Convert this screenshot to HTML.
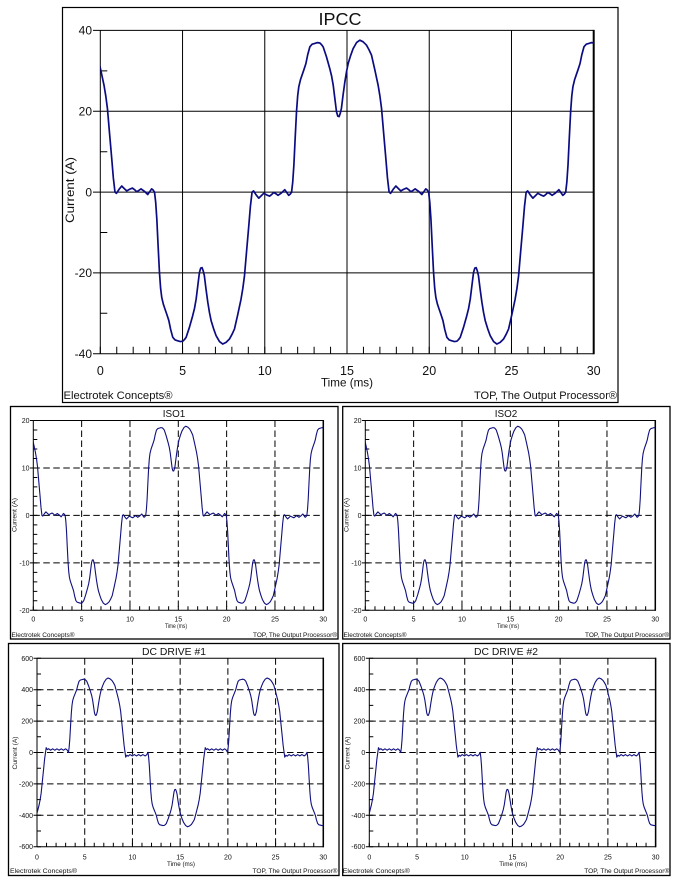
<!DOCTYPE html>
<html><head><meta charset="utf-8">
<style>
html,body{margin:0;padding:0;background:#fff;width:679px;height:885px;overflow:hidden}
svg{display:block}
text{font-family:"Liberation Sans",Arial,sans-serif;fill:#111}
.w{fill:none;stroke-linejoin:round;stroke-linecap:round}
</style></head><body>
<svg width="679" height="885" viewBox="0 0 679 885" xmlns="http://www.w3.org/2000/svg">
<defs>
<clipPath id="c0" clipPathUnits="userSpaceOnUse"><rect x="100.3" y="20" width="493.4" height="345"/></clipPath>
<clipPath id="c1" clipPathUnits="userSpaceOnUse"><rect x="33.3" y="412" width="290" height="205"/></clipPath>
<clipPath id="c2" clipPathUnits="userSpaceOnUse"><rect x="365.3" y="412" width="290" height="205"/></clipPath>
<clipPath id="c3" clipPathUnits="userSpaceOnUse"><rect x="37" y="650" width="286.3" height="205"/></clipPath>
<clipPath id="c4" clipPathUnits="userSpaceOnUse"><rect x="369.3" y="650" width="286" height="205"/></clipPath>
</defs>

<!-- ================= IPCC ================= -->
<rect x="62.5" y="7.5" width="555.5" height="395" fill="none" stroke="#000" stroke-width="1.2"/>
<text x="340" y="25" font-size="17.5" text-anchor="middle" textLength="43" lengthAdjust="spacingAndGlyphs">IPCC</text>
<path d="M182.54,30.4V353.7M264.77,30.4V353.7M347,30.4V353.7M429.24,30.4V353.7M511.48,30.4V353.7M100.3,30.4V353.7M100.3,30.4H593.7M100.3,111.3H593.7M100.3,192.1H593.7M100.3,272.9H593.7M100.3,353.7H593.7M93,30.4H100.3M93,111.3H100.3M93,192.1H100.3M93,272.9H100.3M93,353.7H100.3M100.3,70.9H107.3M100.3,151.7H107.3M100.3,232.5H107.3M100.3,313.3H107.3" stroke="#000" stroke-width="1" fill="none"/>
<line x1="593.7" y1="29.9" x2="593.7" y2="354.2" stroke="#000" stroke-width="2"/>
<line x1="99.8" y1="350.2" x2="594.5" y2="350.2" stroke="#000" stroke-width="7" stroke-dasharray="1 15.447"/>
<g font-size="12" text-anchor="end">
<text x="92" y="34.7">40</text><text x="92" y="115.6">20</text><text x="92" y="196.4">0</text><text x="92" y="277.2">-20</text><text x="92" y="358">-40</text>
</g>
<g font-size="12.5" text-anchor="middle">
<text x="100.3" y="375">0</text><text x="182.54" y="375">5</text><text x="264.77" y="375">10</text><text x="347" y="375">15</text><text x="429.24" y="375">20</text><text x="511.48" y="375">25</text><text x="593.7" y="375">30</text>
</g>
<text x="347" y="386.5" font-size="12" text-anchor="middle" textLength="52" lengthAdjust="spacingAndGlyphs">Time (ms)</text>
<text transform="translate(74,190) rotate(-90)" font-size="12" text-anchor="middle" textLength="66" lengthAdjust="spacingAndGlyphs">Current (A)</text>
<text x="63.5" y="399" font-size="11" textLength="109" lengthAdjust="spacingAndGlyphs">Electrotek Concepts®</text>
<text x="617" y="399" font-size="11" text-anchor="end" textLength="143" lengthAdjust="spacingAndGlyphs">TOP, The Output Processor®</text>
<g clip-path="url(#c0)">
<g transform="matrix(16.447,0,0,-4.04,100.3,192.1)" stroke="#0c0c82" class="w">
<path vector-effect="non-scaling-stroke" stroke-width="1.7" transform="translate(-5.037,0)" d="M0,0 L0.07,2.5 0.14,6.7 0.22,13.5 0.3,19.9 0.37,23.8 0.44,26.1 0.54,27.8 0.64,29 0.75,30.3 0.87,31.8 0.98,34 1.11,35.95 1.25,36.6 1.41,36.8 1.57,37 1.72,36.9 1.82,36.5 1.92,35.95 2.12,33.5 2.32,30.6 2.43,28.8 2.53,26.5 2.63,23.2 2.73,19.9 2.81,18.8 2.89,18.7 2.96,19.5 3.03,20.7 3.13,24 3.24,27.3 3.34,29.8 3.44,31.8 3.59,33.8 3.74,35.5 3.95,37 4.15,37.6 4.35,37.2 4.55,36.4 4.7,35.3 4.86,33.9 5.06,30.3 5.26,26.5 5.37,23.8 5.47,20.7 5.6,14.5 5.73,8.4 5.83,3.5 5.93,0 6.02,-0.3 6.18,0.7 6.34,1.5 6.49,0.9 6.64,0.3 6.82,0.7 6.99,1 7.12,0.6 7.25,0.1 7.38,0.4 7.51,0.8 7.72,0.2 7.92,-0.6 8.04,0.1 8.16,0.8 8.25,0.5 8.333,0"/>
<path vector-effect="non-scaling-stroke" stroke-width="1.7" transform="translate(3.297,0) scale(1,-1)" d="M0,0 L0.07,2.5 0.14,6.7 0.22,13.5 0.3,19.9 0.37,23.8 0.44,26.1 0.54,27.8 0.64,29 0.75,30.3 0.87,31.8 0.98,34 1.11,35.95 1.25,36.6 1.41,36.8 1.57,37 1.72,36.9 1.82,36.5 1.92,35.95 2.12,33.5 2.32,30.6 2.43,28.8 2.53,26.5 2.63,23.2 2.73,19.9 2.81,18.8 2.89,18.7 2.96,19.5 3.03,20.7 3.13,24 3.24,27.3 3.34,29.8 3.44,31.8 3.59,33.8 3.74,35.5 3.95,37 4.15,37.6 4.35,37.2 4.55,36.4 4.7,35.3 4.86,33.9 5.06,30.3 5.26,26.5 5.37,23.8 5.47,20.7 5.6,14.5 5.73,8.4 5.83,3.5 5.93,0 6.02,-0.3 6.18,0.7 6.34,1.5 6.49,0.9 6.64,0.3 6.82,0.7 6.99,1 7.12,0.6 7.25,0.1 7.38,0.4 7.51,0.8 7.72,0.2 7.92,-0.6 8.04,0.1 8.16,0.8 8.25,0.5 8.333,0"/>
<path vector-effect="non-scaling-stroke" stroke-width="1.7" transform="translate(11.63,0)" d="M0,0 L0.07,2.5 0.14,6.7 0.22,13.5 0.3,19.9 0.37,23.8 0.44,26.1 0.54,27.8 0.64,29 0.75,30.3 0.87,31.8 0.98,34 1.11,35.95 1.25,36.6 1.41,36.8 1.57,37 1.72,36.9 1.82,36.5 1.92,35.95 2.12,33.5 2.32,30.6 2.43,28.8 2.53,26.5 2.63,23.2 2.73,19.9 2.81,18.8 2.89,18.7 2.96,19.5 3.03,20.7 3.13,24 3.24,27.3 3.34,29.8 3.44,31.8 3.59,33.8 3.74,35.5 3.95,37 4.15,37.6 4.35,37.2 4.55,36.4 4.7,35.3 4.86,33.9 5.06,30.3 5.26,26.5 5.37,23.8 5.47,20.7 5.6,14.5 5.73,8.4 5.83,3.5 5.93,0 6.02,-0.3 6.18,0.7 6.34,1.5 6.49,0.9 6.64,0.3 6.82,0.7 6.99,1 7.12,0.6 7.25,0.1 7.38,0.4 7.51,0.8 7.72,0.2 7.92,-0.6 8.04,0.1 8.16,0.8 8.25,0.5 8.333,0"/>
<path vector-effect="non-scaling-stroke" stroke-width="1.7" transform="translate(19.963,0) scale(1,-1)" d="M0,0 L0.07,2.5 0.14,6.7 0.22,13.5 0.3,19.9 0.37,23.8 0.44,26.1 0.54,27.8 0.64,29 0.75,30.3 0.87,31.8 0.98,34 1.11,35.95 1.25,36.6 1.41,36.8 1.57,37 1.72,36.9 1.82,36.5 1.92,35.95 2.12,33.5 2.32,30.6 2.43,28.8 2.53,26.5 2.63,23.2 2.73,19.9 2.81,18.8 2.89,18.7 2.96,19.5 3.03,20.7 3.13,24 3.24,27.3 3.34,29.8 3.44,31.8 3.59,33.8 3.74,35.5 3.95,37 4.15,37.6 4.35,37.2 4.55,36.4 4.7,35.3 4.86,33.9 5.06,30.3 5.26,26.5 5.37,23.8 5.47,20.7 5.6,14.5 5.73,8.4 5.83,3.5 5.93,0 6.02,-0.3 6.18,0.7 6.34,1.5 6.49,0.9 6.64,0.3 6.82,0.7 6.99,1 7.12,0.6 7.25,0.1 7.38,0.4 7.51,0.8 7.72,0.2 7.92,-0.6 8.04,0.1 8.16,0.8 8.25,0.5 8.333,0"/>
<path vector-effect="non-scaling-stroke" stroke-width="1.7" transform="translate(28.297,0)" d="M0,0 L0.07,2.5 0.14,6.7 0.22,13.5 0.3,19.9 0.37,23.8 0.44,26.1 0.54,27.8 0.64,29 0.75,30.3 0.87,31.8 0.98,34 1.11,35.95 1.25,36.6 1.41,36.8 1.57,37 1.72,36.9 1.82,36.5 1.92,35.95 2.12,33.5"/>
</g></g>

<!-- ================= ISO1 / ISO2 frames ================= -->
<rect x="10.5" y="406.5" width="327.5" height="232.5" fill="none" stroke="#000" stroke-width="1.3"/>
<rect x="342.7" y="406.5" width="327.3" height="232.5" fill="none" stroke="#000" stroke-width="1.3"/>

<g>
<path d="M33.3,420.5H323.3V610.3H33.3ZM30,420.5H33.3M30,467.95H33.3M30,515.4H33.3M30,562.85H33.3M30,610.3H33.3" stroke="#000" stroke-width="1" fill="none"/>
<line x1="323.3" y1="420" x2="323.3" y2="610.8" stroke="#000" stroke-width="1.5"/>
<path d="M81.63,420.5V610.3M129.97,420.5V610.3M178.3,420.5V610.3M226.63,420.5V610.3M274.97,420.5V610.3M33.3,467.95H323.3M33.3,515.4H323.3M33.3,562.85H323.3" stroke="#000" stroke-width="1" fill="none" stroke-dasharray="6.5 3.5"/>
<line x1="35.3" y1="420" x2="35.3" y2="610.8" stroke="#000" stroke-width="4" stroke-dasharray="1 8.49"/>
<line x1="32.8" y1="608.3" x2="323.8" y2="608.3" stroke="#000" stroke-width="4" stroke-dasharray="1 8.667"/>
<g font-size="7" text-anchor="end">
<text x="29.5" y="423">20</text><text x="29.5" y="470.5">10</text><text x="29.5" y="518">0</text><text x="29.5" y="565.3">-10</text><text x="29.5" y="612.8">-20</text>
</g>
<g font-size="7" text-anchor="middle">
<text x="33.3" y="621.7">0</text><text x="81.63" y="621.7">5</text><text x="129.97" y="621.7">10</text><text x="178.3" y="621.7">15</text><text x="226.63" y="621.7">20</text><text x="274.97" y="621.7">25</text><text x="323.3" y="621.7">30</text>
</g>
<text x="176" y="628" font-size="6.5" text-anchor="middle" textLength="22" lengthAdjust="spacingAndGlyphs">Time (ms)</text>
<text transform="translate(16.5,515) rotate(-90)" font-size="6.5" text-anchor="middle" textLength="34" lengthAdjust="spacingAndGlyphs">Current (A)</text>
<text x="11.5" y="636.8" font-size="6.5" textLength="63" lengthAdjust="spacingAndGlyphs">Electrotek Concepts®</text>
<text x="337" y="636.8" font-size="6.5" text-anchor="end" textLength="84" lengthAdjust="spacingAndGlyphs">TOP, The Output Processor®</text>
</g>
<text x="174" y="417" font-size="10" text-anchor="middle" textLength="22.5" lengthAdjust="spacingAndGlyphs">ISO1</text>
<g transform="translate(332,0)">
<path d="M33.3,420.5H323.3V610.3H33.3ZM30,420.5H33.3M30,467.95H33.3M30,515.4H33.3M30,562.85H33.3M30,610.3H33.3" stroke="#000" stroke-width="1" fill="none"/>
<line x1="323.3" y1="420" x2="323.3" y2="610.8" stroke="#000" stroke-width="1.5"/>
<path d="M81.63,420.5V610.3M129.97,420.5V610.3M178.3,420.5V610.3M226.63,420.5V610.3M274.97,420.5V610.3M33.3,467.95H323.3M33.3,515.4H323.3M33.3,562.85H323.3" stroke="#000" stroke-width="1" fill="none" stroke-dasharray="6.5 3.5"/>
<line x1="35.3" y1="420" x2="35.3" y2="610.8" stroke="#000" stroke-width="4" stroke-dasharray="1 8.49"/>
<line x1="32.8" y1="608.3" x2="323.8" y2="608.3" stroke="#000" stroke-width="4" stroke-dasharray="1 8.667"/>
<g font-size="7" text-anchor="end">
<text x="29.5" y="423">20</text><text x="29.5" y="470.5">10</text><text x="29.5" y="518">0</text><text x="29.5" y="565.3">-10</text><text x="29.5" y="612.8">-20</text>
</g>
<g font-size="7" text-anchor="middle">
<text x="33.3" y="621.7">0</text><text x="81.63" y="621.7">5</text><text x="129.97" y="621.7">10</text><text x="178.3" y="621.7">15</text><text x="226.63" y="621.7">20</text><text x="274.97" y="621.7">25</text><text x="323.3" y="621.7">30</text>
</g>
<text x="176" y="628" font-size="6.5" text-anchor="middle" textLength="22" lengthAdjust="spacingAndGlyphs">Time (ms)</text>
<text transform="translate(16.5,515) rotate(-90)" font-size="6.5" text-anchor="middle" textLength="34" lengthAdjust="spacingAndGlyphs">Current (A)</text>
<text x="11.5" y="636.8" font-size="6.5" textLength="63" lengthAdjust="spacingAndGlyphs">Electrotek Concepts®</text>
<text x="337" y="636.8" font-size="6.5" text-anchor="end" textLength="84" lengthAdjust="spacingAndGlyphs">TOP, The Output Processor®</text>
</g>
<text x="506" y="417" font-size="10" text-anchor="middle" textLength="22.5" lengthAdjust="spacingAndGlyphs">ISO2</text>

<!-- ISO waveforms -->
<g clip-path="url(#c1)">
<g transform="matrix(9.667,0,0,-2.3725,33.3,515.4)" stroke="#10107e" class="w">
<path vector-effect="non-scaling-stroke" stroke-width="1.1" transform="translate(-5.037,0)" d="M0,0 L0.07,2.5 0.14,6.7 0.22,13.5 0.3,19.9 0.37,23.8 0.44,26.1 0.54,27.8 0.64,29 0.75,30.3 0.87,31.8 0.98,34 1.11,35.95 1.25,36.6 1.41,36.8 1.57,37 1.72,36.9 1.82,36.5 1.92,35.95 2.12,33.5 2.32,30.6 2.43,28.8 2.53,26.5 2.63,23.2 2.73,19.9 2.81,18.8 2.89,18.7 2.96,19.5 3.03,20.7 3.13,24 3.24,27.3 3.34,29.8 3.44,31.8 3.59,33.8 3.74,35.5 3.95,37 4.15,37.6 4.35,37.2 4.55,36.4 4.7,35.3 4.86,33.9 5.06,30.3 5.26,26.5 5.37,23.8 5.47,20.7 5.6,14.5 5.73,8.4 5.83,3.5 5.93,0 6.02,-0.3 6.18,0.7 6.34,1.5 6.49,0.9 6.64,0.3 6.82,0.7 6.99,1 7.12,0.6 7.25,0.1 7.38,0.4 7.51,0.8 7.72,0.2 7.92,-0.6 8.04,0.1 8.16,0.8 8.25,0.5 8.333,0"/>
<path vector-effect="non-scaling-stroke" stroke-width="1.1" transform="translate(3.297,0) scale(1,-1)" d="M0,0 L0.07,2.5 0.14,6.7 0.22,13.5 0.3,19.9 0.37,23.8 0.44,26.1 0.54,27.8 0.64,29 0.75,30.3 0.87,31.8 0.98,34 1.11,35.95 1.25,36.6 1.41,36.8 1.57,37 1.72,36.9 1.82,36.5 1.92,35.95 2.12,33.5 2.32,30.6 2.43,28.8 2.53,26.5 2.63,23.2 2.73,19.9 2.81,18.8 2.89,18.7 2.96,19.5 3.03,20.7 3.13,24 3.24,27.3 3.34,29.8 3.44,31.8 3.59,33.8 3.74,35.5 3.95,37 4.15,37.6 4.35,37.2 4.55,36.4 4.7,35.3 4.86,33.9 5.06,30.3 5.26,26.5 5.37,23.8 5.47,20.7 5.6,14.5 5.73,8.4 5.83,3.5 5.93,0 6.02,-0.3 6.18,0.7 6.34,1.5 6.49,0.9 6.64,0.3 6.82,0.7 6.99,1 7.12,0.6 7.25,0.1 7.38,0.4 7.51,0.8 7.72,0.2 7.92,-0.6 8.04,0.1 8.16,0.8 8.25,0.5 8.333,0"/>
<path vector-effect="non-scaling-stroke" stroke-width="1.1" transform="translate(11.63,0)" d="M0,0 L0.07,2.5 0.14,6.7 0.22,13.5 0.3,19.9 0.37,23.8 0.44,26.1 0.54,27.8 0.64,29 0.75,30.3 0.87,31.8 0.98,34 1.11,35.95 1.25,36.6 1.41,36.8 1.57,37 1.72,36.9 1.82,36.5 1.92,35.95 2.12,33.5 2.32,30.6 2.43,28.8 2.53,26.5 2.63,23.2 2.73,19.9 2.81,18.8 2.89,18.7 2.96,19.5 3.03,20.7 3.13,24 3.24,27.3 3.34,29.8 3.44,31.8 3.59,33.8 3.74,35.5 3.95,37 4.15,37.6 4.35,37.2 4.55,36.4 4.7,35.3 4.86,33.9 5.06,30.3 5.26,26.5 5.37,23.8 5.47,20.7 5.6,14.5 5.73,8.4 5.83,3.5 5.93,0 6.02,-0.3 6.18,0.7 6.34,1.5 6.49,0.9 6.64,0.3 6.82,0.7 6.99,1 7.12,0.6 7.25,0.1 7.38,0.4 7.51,0.8 7.72,0.2 7.92,-0.6 8.04,0.1 8.16,0.8 8.25,0.5 8.333,0"/>
<path vector-effect="non-scaling-stroke" stroke-width="1.1" transform="translate(19.963,0) scale(1,-1)" d="M0,0 L0.07,2.5 0.14,6.7 0.22,13.5 0.3,19.9 0.37,23.8 0.44,26.1 0.54,27.8 0.64,29 0.75,30.3 0.87,31.8 0.98,34 1.11,35.95 1.25,36.6 1.41,36.8 1.57,37 1.72,36.9 1.82,36.5 1.92,35.95 2.12,33.5 2.32,30.6 2.43,28.8 2.53,26.5 2.63,23.2 2.73,19.9 2.81,18.8 2.89,18.7 2.96,19.5 3.03,20.7 3.13,24 3.24,27.3 3.34,29.8 3.44,31.8 3.59,33.8 3.74,35.5 3.95,37 4.15,37.6 4.35,37.2 4.55,36.4 4.7,35.3 4.86,33.9 5.06,30.3 5.26,26.5 5.37,23.8 5.47,20.7 5.6,14.5 5.73,8.4 5.83,3.5 5.93,0 6.02,-0.3 6.18,0.7 6.34,1.5 6.49,0.9 6.64,0.3 6.82,0.7 6.99,1 7.12,0.6 7.25,0.1 7.38,0.4 7.51,0.8 7.72,0.2 7.92,-0.6 8.04,0.1 8.16,0.8 8.25,0.5 8.333,0"/>
<path vector-effect="non-scaling-stroke" stroke-width="1.1" transform="translate(28.297,0)" d="M0,0 L0.07,2.5 0.14,6.7 0.22,13.5 0.3,19.9 0.37,23.8 0.44,26.1 0.54,27.8 0.64,29 0.75,30.3 0.87,31.8 0.98,34 1.11,35.95 1.25,36.6 1.41,36.8 1.57,37 1.72,36.9 1.82,36.5 1.92,35.95 2.12,33.5"/>
</g></g>
<g clip-path="url(#c2)">
<g transform="matrix(9.667,0,0,-2.3725,365.3,515.4)" stroke="#10107e" class="w">
<path vector-effect="non-scaling-stroke" stroke-width="1.1" transform="translate(-5.037,0)" d="M0,0 L0.07,2.5 0.14,6.7 0.22,13.5 0.3,19.9 0.37,23.8 0.44,26.1 0.54,27.8 0.64,29 0.75,30.3 0.87,31.8 0.98,34 1.11,35.95 1.25,36.6 1.41,36.8 1.57,37 1.72,36.9 1.82,36.5 1.92,35.95 2.12,33.5 2.32,30.6 2.43,28.8 2.53,26.5 2.63,23.2 2.73,19.9 2.81,18.8 2.89,18.7 2.96,19.5 3.03,20.7 3.13,24 3.24,27.3 3.34,29.8 3.44,31.8 3.59,33.8 3.74,35.5 3.95,37 4.15,37.6 4.35,37.2 4.55,36.4 4.7,35.3 4.86,33.9 5.06,30.3 5.26,26.5 5.37,23.8 5.47,20.7 5.6,14.5 5.73,8.4 5.83,3.5 5.93,0 6.02,-0.3 6.18,0.7 6.34,1.5 6.49,0.9 6.64,0.3 6.82,0.7 6.99,1 7.12,0.6 7.25,0.1 7.38,0.4 7.51,0.8 7.72,0.2 7.92,-0.6 8.04,0.1 8.16,0.8 8.25,0.5 8.333,0"/>
<path vector-effect="non-scaling-stroke" stroke-width="1.1" transform="translate(3.297,0) scale(1,-1)" d="M0,0 L0.07,2.5 0.14,6.7 0.22,13.5 0.3,19.9 0.37,23.8 0.44,26.1 0.54,27.8 0.64,29 0.75,30.3 0.87,31.8 0.98,34 1.11,35.95 1.25,36.6 1.41,36.8 1.57,37 1.72,36.9 1.82,36.5 1.92,35.95 2.12,33.5 2.32,30.6 2.43,28.8 2.53,26.5 2.63,23.2 2.73,19.9 2.81,18.8 2.89,18.7 2.96,19.5 3.03,20.7 3.13,24 3.24,27.3 3.34,29.8 3.44,31.8 3.59,33.8 3.74,35.5 3.95,37 4.15,37.6 4.35,37.2 4.55,36.4 4.7,35.3 4.86,33.9 5.06,30.3 5.26,26.5 5.37,23.8 5.47,20.7 5.6,14.5 5.73,8.4 5.83,3.5 5.93,0 6.02,-0.3 6.18,0.7 6.34,1.5 6.49,0.9 6.64,0.3 6.82,0.7 6.99,1 7.12,0.6 7.25,0.1 7.38,0.4 7.51,0.8 7.72,0.2 7.92,-0.6 8.04,0.1 8.16,0.8 8.25,0.5 8.333,0"/>
<path vector-effect="non-scaling-stroke" stroke-width="1.1" transform="translate(11.63,0)" d="M0,0 L0.07,2.5 0.14,6.7 0.22,13.5 0.3,19.9 0.37,23.8 0.44,26.1 0.54,27.8 0.64,29 0.75,30.3 0.87,31.8 0.98,34 1.11,35.95 1.25,36.6 1.41,36.8 1.57,37 1.72,36.9 1.82,36.5 1.92,35.95 2.12,33.5 2.32,30.6 2.43,28.8 2.53,26.5 2.63,23.2 2.73,19.9 2.81,18.8 2.89,18.7 2.96,19.5 3.03,20.7 3.13,24 3.24,27.3 3.34,29.8 3.44,31.8 3.59,33.8 3.74,35.5 3.95,37 4.15,37.6 4.35,37.2 4.55,36.4 4.7,35.3 4.86,33.9 5.06,30.3 5.26,26.5 5.37,23.8 5.47,20.7 5.6,14.5 5.73,8.4 5.83,3.5 5.93,0 6.02,-0.3 6.18,0.7 6.34,1.5 6.49,0.9 6.64,0.3 6.82,0.7 6.99,1 7.12,0.6 7.25,0.1 7.38,0.4 7.51,0.8 7.72,0.2 7.92,-0.6 8.04,0.1 8.16,0.8 8.25,0.5 8.333,0"/>
<path vector-effect="non-scaling-stroke" stroke-width="1.1" transform="translate(19.963,0) scale(1,-1)" d="M0,0 L0.07,2.5 0.14,6.7 0.22,13.5 0.3,19.9 0.37,23.8 0.44,26.1 0.54,27.8 0.64,29 0.75,30.3 0.87,31.8 0.98,34 1.11,35.95 1.25,36.6 1.41,36.8 1.57,37 1.72,36.9 1.82,36.5 1.92,35.95 2.12,33.5 2.32,30.6 2.43,28.8 2.53,26.5 2.63,23.2 2.73,19.9 2.81,18.8 2.89,18.7 2.96,19.5 3.03,20.7 3.13,24 3.24,27.3 3.34,29.8 3.44,31.8 3.59,33.8 3.74,35.5 3.95,37 4.15,37.6 4.35,37.2 4.55,36.4 4.7,35.3 4.86,33.9 5.06,30.3 5.26,26.5 5.37,23.8 5.47,20.7 5.6,14.5 5.73,8.4 5.83,3.5 5.93,0 6.02,-0.3 6.18,0.7 6.34,1.5 6.49,0.9 6.64,0.3 6.82,0.7 6.99,1 7.12,0.6 7.25,0.1 7.38,0.4 7.51,0.8 7.72,0.2 7.92,-0.6 8.04,0.1 8.16,0.8 8.25,0.5 8.333,0"/>
<path vector-effect="non-scaling-stroke" stroke-width="1.1" transform="translate(28.297,0)" d="M0,0 L0.07,2.5 0.14,6.7 0.22,13.5 0.3,19.9 0.37,23.8 0.44,26.1 0.54,27.8 0.64,29 0.75,30.3 0.87,31.8 0.98,34 1.11,35.95 1.25,36.6 1.41,36.8 1.57,37 1.72,36.9 1.82,36.5 1.92,35.95 2.12,33.5"/>
</g></g>

<!-- ================= DC DRIVE frames ================= -->
<rect x="8.5" y="643.5" width="330.5" height="232" fill="none" stroke="#000" stroke-width="1.3"/>
<rect x="342.7" y="643.5" width="327.3" height="232" fill="none" stroke="#000" stroke-width="1.3"/>
<text x="174" y="655" font-size="10.5" text-anchor="middle" textLength="64" lengthAdjust="spacingAndGlyphs">DC DRIVE #1</text>
<text x="506" y="655" font-size="10.5" text-anchor="middle" textLength="64" lengthAdjust="spacingAndGlyphs">DC DRIVE #2</text>

<g>
<path d="M37,658.3H323.3V846.7H37ZM33.5,658.3H37M33.5,689.7H37M33.5,721.1H37M33.5,752.5H37M33.5,783.9H37M33.5,815.3H37M33.5,846.7H37" stroke="#000" stroke-width="1" fill="none"/>
<line x1="323.3" y1="657.8" x2="323.3" y2="847.2" stroke="#000" stroke-width="1.5"/>
<path d="M84.72,658.3V846.7M132.43,658.3V846.7M180.15,658.3V846.7M227.87,658.3V846.7M275.58,658.3V846.7M37,689.7H323.3M37,721.1H323.3M37,752.5H323.3M37,783.9H323.3M37,815.3H323.3" stroke="#000" stroke-width="1" fill="none" stroke-dasharray="6.5 3.5"/>
<line x1="39" y1="657.8" x2="39" y2="847.2" stroke="#000" stroke-width="4" stroke-dasharray="1 14.7"/>
<line x1="36.5" y1="844.7" x2="323.8" y2="844.7" stroke="#000" stroke-width="4" stroke-dasharray="1 8.543"/>
<g font-size="7" text-anchor="end">
<text x="33" y="660.8">600</text><text x="33" y="692.2">400</text><text x="33" y="723.6">200</text><text x="33" y="755">0</text><text x="33" y="786.4">-200</text><text x="33" y="817.8">-400</text><text x="33" y="849.2">-600</text>
</g>
<g font-size="7" text-anchor="middle">
<text x="37" y="859.5">0</text><text x="84.72" y="859.5">5</text><text x="132.43" y="859.5">10</text><text x="180.15" y="859.5">15</text><text x="227.87" y="859.5">20</text><text x="275.58" y="859.5">25</text><text x="323.3" y="859.5">30</text>
</g>
<text x="181" y="866" font-size="6.5" text-anchor="middle" textLength="28" lengthAdjust="spacingAndGlyphs">Time (ms)</text>
<text transform="translate(17,753) rotate(-90)" font-size="6.5" text-anchor="middle" textLength="33" lengthAdjust="spacingAndGlyphs">Current (A)</text>
<text x="10" y="873" font-size="6.5" textLength="67" lengthAdjust="spacingAndGlyphs">Electrotek Concepts®</text>
<text x="337.5" y="873" font-size="6.5" text-anchor="end" textLength="85" lengthAdjust="spacingAndGlyphs">TOP, The Output Processor®</text>
</g>
<g transform="translate(332.3,0)">
<path d="M37,658.3H323.3V846.7H37ZM33.5,658.3H37M33.5,689.7H37M33.5,721.1H37M33.5,752.5H37M33.5,783.9H37M33.5,815.3H37M33.5,846.7H37" stroke="#000" stroke-width="1" fill="none"/>
<line x1="323.3" y1="657.8" x2="323.3" y2="847.2" stroke="#000" stroke-width="1.5"/>
<path d="M84.72,658.3V846.7M132.43,658.3V846.7M180.15,658.3V846.7M227.87,658.3V846.7M275.58,658.3V846.7M37,689.7H323.3M37,721.1H323.3M37,752.5H323.3M37,783.9H323.3M37,815.3H323.3" stroke="#000" stroke-width="1" fill="none" stroke-dasharray="6.5 3.5"/>
<line x1="39" y1="657.8" x2="39" y2="847.2" stroke="#000" stroke-width="4" stroke-dasharray="1 14.7"/>
<line x1="36.5" y1="844.7" x2="323.8" y2="844.7" stroke="#000" stroke-width="4" stroke-dasharray="1 8.543"/>
<g font-size="7" text-anchor="end">
<text x="33" y="660.8">600</text><text x="33" y="692.2">400</text><text x="33" y="723.6">200</text><text x="33" y="755">0</text><text x="33" y="786.4">-200</text><text x="33" y="817.8">-400</text><text x="33" y="849.2">-600</text>
</g>
<g font-size="7" text-anchor="middle">
<text x="37" y="859.5">0</text><text x="84.72" y="859.5">5</text><text x="132.43" y="859.5">10</text><text x="180.15" y="859.5">15</text><text x="227.87" y="859.5">20</text><text x="275.58" y="859.5">25</text><text x="323.3" y="859.5">30</text>
</g>
<text x="181" y="866" font-size="6.5" text-anchor="middle" textLength="28" lengthAdjust="spacingAndGlyphs">Time (ms)</text>
<text transform="translate(17,753) rotate(-90)" font-size="6.5" text-anchor="middle" textLength="33" lengthAdjust="spacingAndGlyphs">Current (A)</text>
<text x="10.5" y="873" font-size="6.5" textLength="67" lengthAdjust="spacingAndGlyphs">Electrotek Concepts®</text>
<text x="337" y="873" font-size="6.5" text-anchor="end" textLength="85" lengthAdjust="spacingAndGlyphs">TOP, The Output Processor®</text>
</g>

<!-- DC waveforms -->
<g clip-path="url(#c3)">
<g transform="matrix(9.543,0,0,1.978,37,752.4)" stroke="#10107e" class="w">
<path vector-effect="non-scaling-stroke" stroke-width="1.1" transform="translate(-5.037,0)" d="M0,0 L0.07,2.5 0.14,6.7 0.22,13.5 0.3,19.9 0.37,23.8 0.44,26.1 0.54,27.8 0.64,29 0.75,30.3 0.87,31.8 0.98,34 1.11,35.95 1.25,36.6 1.41,36.8 1.57,37 1.72,36.9 1.82,36.5 1.92,35.95 2.12,33.5 2.32,30.6 2.43,28.8 2.53,26.5 2.63,23.2 2.73,19.9 2.81,18.8 2.89,18.7 2.96,19.5 3.03,20.7 3.13,24 3.24,27.3 3.34,29.8 3.44,31.8 3.59,33.8 3.74,35.5 3.95,37 4.15,37.6 4.35,37.2 4.55,36.4 4.7,35.3 4.86,33.9 5.06,30.3 5.26,26.5 5.37,23.8 5.47,20.7 5.6,14.5 5.73,8.4 5.83,3.5 5.93,0 6,-2.4 6.12,-1.4 6.25,-1.9 6.45,-1.1 6.68,-1.8 6.9,-1.1 7.13,-1.8 7.35,-1.1 7.58,-1.8 7.8,-1.1 8.03,-1.8 8.2,-1.2 8.333,0"/>
<path vector-effect="non-scaling-stroke" stroke-width="1.1" transform="translate(3.297,0) scale(1,-1)" d="M0,0 L0.07,2.5 0.14,6.7 0.22,13.5 0.3,19.9 0.37,23.8 0.44,26.1 0.54,27.8 0.64,29 0.75,30.3 0.87,31.8 0.98,34 1.11,35.95 1.25,36.6 1.41,36.8 1.57,37 1.72,36.9 1.82,36.5 1.92,35.95 2.12,33.5 2.32,30.6 2.43,28.8 2.53,26.5 2.63,23.2 2.73,19.9 2.81,18.8 2.89,18.7 2.96,19.5 3.03,20.7 3.13,24 3.24,27.3 3.34,29.8 3.44,31.8 3.59,33.8 3.74,35.5 3.95,37 4.15,37.6 4.35,37.2 4.55,36.4 4.7,35.3 4.86,33.9 5.06,30.3 5.26,26.5 5.37,23.8 5.47,20.7 5.6,14.5 5.73,8.4 5.83,3.5 5.93,0 6,-2.4 6.12,-1.4 6.25,-1.9 6.45,-1.1 6.68,-1.8 6.9,-1.1 7.13,-1.8 7.35,-1.1 7.58,-1.8 7.8,-1.1 8.03,-1.8 8.2,-1.2 8.333,0"/>
<path vector-effect="non-scaling-stroke" stroke-width="1.1" transform="translate(11.63,0)" d="M0,0 L0.07,2.5 0.14,6.7 0.22,13.5 0.3,19.9 0.37,23.8 0.44,26.1 0.54,27.8 0.64,29 0.75,30.3 0.87,31.8 0.98,34 1.11,35.95 1.25,36.6 1.41,36.8 1.57,37 1.72,36.9 1.82,36.5 1.92,35.95 2.12,33.5 2.32,30.6 2.43,28.8 2.53,26.5 2.63,23.2 2.73,19.9 2.81,18.8 2.89,18.7 2.96,19.5 3.03,20.7 3.13,24 3.24,27.3 3.34,29.8 3.44,31.8 3.59,33.8 3.74,35.5 3.95,37 4.15,37.6 4.35,37.2 4.55,36.4 4.7,35.3 4.86,33.9 5.06,30.3 5.26,26.5 5.37,23.8 5.47,20.7 5.6,14.5 5.73,8.4 5.83,3.5 5.93,0 6,-2.4 6.12,-1.4 6.25,-1.9 6.45,-1.1 6.68,-1.8 6.9,-1.1 7.13,-1.8 7.35,-1.1 7.58,-1.8 7.8,-1.1 8.03,-1.8 8.2,-1.2 8.333,0"/>
<path vector-effect="non-scaling-stroke" stroke-width="1.1" transform="translate(19.963,0) scale(1,-1)" d="M0,0 L0.07,2.5 0.14,6.7 0.22,13.5 0.3,19.9 0.37,23.8 0.44,26.1 0.54,27.8 0.64,29 0.75,30.3 0.87,31.8 0.98,34 1.11,35.95 1.25,36.6 1.41,36.8 1.57,37 1.72,36.9 1.82,36.5 1.92,35.95 2.12,33.5 2.32,30.6 2.43,28.8 2.53,26.5 2.63,23.2 2.73,19.9 2.81,18.8 2.89,18.7 2.96,19.5 3.03,20.7 3.13,24 3.24,27.3 3.34,29.8 3.44,31.8 3.59,33.8 3.74,35.5 3.95,37 4.15,37.6 4.35,37.2 4.55,36.4 4.7,35.3 4.86,33.9 5.06,30.3 5.26,26.5 5.37,23.8 5.47,20.7 5.6,14.5 5.73,8.4 5.83,3.5 5.93,0 6,-2.4 6.12,-1.4 6.25,-1.9 6.45,-1.1 6.68,-1.8 6.9,-1.1 7.13,-1.8 7.35,-1.1 7.58,-1.8 7.8,-1.1 8.03,-1.8 8.2,-1.2 8.333,0"/>
<path vector-effect="non-scaling-stroke" stroke-width="1.1" transform="translate(28.297,0)" d="M0,0 L0.07,2.5 0.14,6.7 0.22,13.5 0.3,19.9 0.37,23.8 0.44,26.1 0.54,27.8 0.64,29 0.75,30.3 0.87,31.8 0.98,34 1.11,35.95 1.25,36.6 1.41,36.8 1.57,37 1.72,36.9 1.82,36.5 1.92,35.95 2.12,33.5"/>
</g></g>
<g clip-path="url(#c4)">
<g transform="matrix(9.533,0,0,1.978,369.3,752.4)" stroke="#10107e" class="w">
<path vector-effect="non-scaling-stroke" stroke-width="1.1" transform="translate(-5.037,0)" d="M0,0 L0.07,2.5 0.14,6.7 0.22,13.5 0.3,19.9 0.37,23.8 0.44,26.1 0.54,27.8 0.64,29 0.75,30.3 0.87,31.8 0.98,34 1.11,35.95 1.25,36.6 1.41,36.8 1.57,37 1.72,36.9 1.82,36.5 1.92,35.95 2.12,33.5 2.32,30.6 2.43,28.8 2.53,26.5 2.63,23.2 2.73,19.9 2.81,18.8 2.89,18.7 2.96,19.5 3.03,20.7 3.13,24 3.24,27.3 3.34,29.8 3.44,31.8 3.59,33.8 3.74,35.5 3.95,37 4.15,37.6 4.35,37.2 4.55,36.4 4.7,35.3 4.86,33.9 5.06,30.3 5.26,26.5 5.37,23.8 5.47,20.7 5.6,14.5 5.73,8.4 5.83,3.5 5.93,0 6,-2.4 6.12,-1.4 6.25,-1.9 6.45,-1.1 6.68,-1.8 6.9,-1.1 7.13,-1.8 7.35,-1.1 7.58,-1.8 7.8,-1.1 8.03,-1.8 8.2,-1.2 8.333,0"/>
<path vector-effect="non-scaling-stroke" stroke-width="1.1" transform="translate(3.297,0) scale(1,-1)" d="M0,0 L0.07,2.5 0.14,6.7 0.22,13.5 0.3,19.9 0.37,23.8 0.44,26.1 0.54,27.8 0.64,29 0.75,30.3 0.87,31.8 0.98,34 1.11,35.95 1.25,36.6 1.41,36.8 1.57,37 1.72,36.9 1.82,36.5 1.92,35.95 2.12,33.5 2.32,30.6 2.43,28.8 2.53,26.5 2.63,23.2 2.73,19.9 2.81,18.8 2.89,18.7 2.96,19.5 3.03,20.7 3.13,24 3.24,27.3 3.34,29.8 3.44,31.8 3.59,33.8 3.74,35.5 3.95,37 4.15,37.6 4.35,37.2 4.55,36.4 4.7,35.3 4.86,33.9 5.06,30.3 5.26,26.5 5.37,23.8 5.47,20.7 5.6,14.5 5.73,8.4 5.83,3.5 5.93,0 6,-2.4 6.12,-1.4 6.25,-1.9 6.45,-1.1 6.68,-1.8 6.9,-1.1 7.13,-1.8 7.35,-1.1 7.58,-1.8 7.8,-1.1 8.03,-1.8 8.2,-1.2 8.333,0"/>
<path vector-effect="non-scaling-stroke" stroke-width="1.1" transform="translate(11.63,0)" d="M0,0 L0.07,2.5 0.14,6.7 0.22,13.5 0.3,19.9 0.37,23.8 0.44,26.1 0.54,27.8 0.64,29 0.75,30.3 0.87,31.8 0.98,34 1.11,35.95 1.25,36.6 1.41,36.8 1.57,37 1.72,36.9 1.82,36.5 1.92,35.95 2.12,33.5 2.32,30.6 2.43,28.8 2.53,26.5 2.63,23.2 2.73,19.9 2.81,18.8 2.89,18.7 2.96,19.5 3.03,20.7 3.13,24 3.24,27.3 3.34,29.8 3.44,31.8 3.59,33.8 3.74,35.5 3.95,37 4.15,37.6 4.35,37.2 4.55,36.4 4.7,35.3 4.86,33.9 5.06,30.3 5.26,26.5 5.37,23.8 5.47,20.7 5.6,14.5 5.73,8.4 5.83,3.5 5.93,0 6,-2.4 6.12,-1.4 6.25,-1.9 6.45,-1.1 6.68,-1.8 6.9,-1.1 7.13,-1.8 7.35,-1.1 7.58,-1.8 7.8,-1.1 8.03,-1.8 8.2,-1.2 8.333,0"/>
<path vector-effect="non-scaling-stroke" stroke-width="1.1" transform="translate(19.963,0) scale(1,-1)" d="M0,0 L0.07,2.5 0.14,6.7 0.22,13.5 0.3,19.9 0.37,23.8 0.44,26.1 0.54,27.8 0.64,29 0.75,30.3 0.87,31.8 0.98,34 1.11,35.95 1.25,36.6 1.41,36.8 1.57,37 1.72,36.9 1.82,36.5 1.92,35.95 2.12,33.5 2.32,30.6 2.43,28.8 2.53,26.5 2.63,23.2 2.73,19.9 2.81,18.8 2.89,18.7 2.96,19.5 3.03,20.7 3.13,24 3.24,27.3 3.34,29.8 3.44,31.8 3.59,33.8 3.74,35.5 3.95,37 4.15,37.6 4.35,37.2 4.55,36.4 4.7,35.3 4.86,33.9 5.06,30.3 5.26,26.5 5.37,23.8 5.47,20.7 5.6,14.5 5.73,8.4 5.83,3.5 5.93,0 6,-2.4 6.12,-1.4 6.25,-1.9 6.45,-1.1 6.68,-1.8 6.9,-1.1 7.13,-1.8 7.35,-1.1 7.58,-1.8 7.8,-1.1 8.03,-1.8 8.2,-1.2 8.333,0"/>
<path vector-effect="non-scaling-stroke" stroke-width="1.1" transform="translate(28.297,0)" d="M0,0 L0.07,2.5 0.14,6.7 0.22,13.5 0.3,19.9 0.37,23.8 0.44,26.1 0.54,27.8 0.64,29 0.75,30.3 0.87,31.8 0.98,34 1.11,35.95 1.25,36.6 1.41,36.8 1.57,37 1.72,36.9 1.82,36.5 1.92,35.95 2.12,33.5"/>
</g></g>
</svg>
</body></html>
